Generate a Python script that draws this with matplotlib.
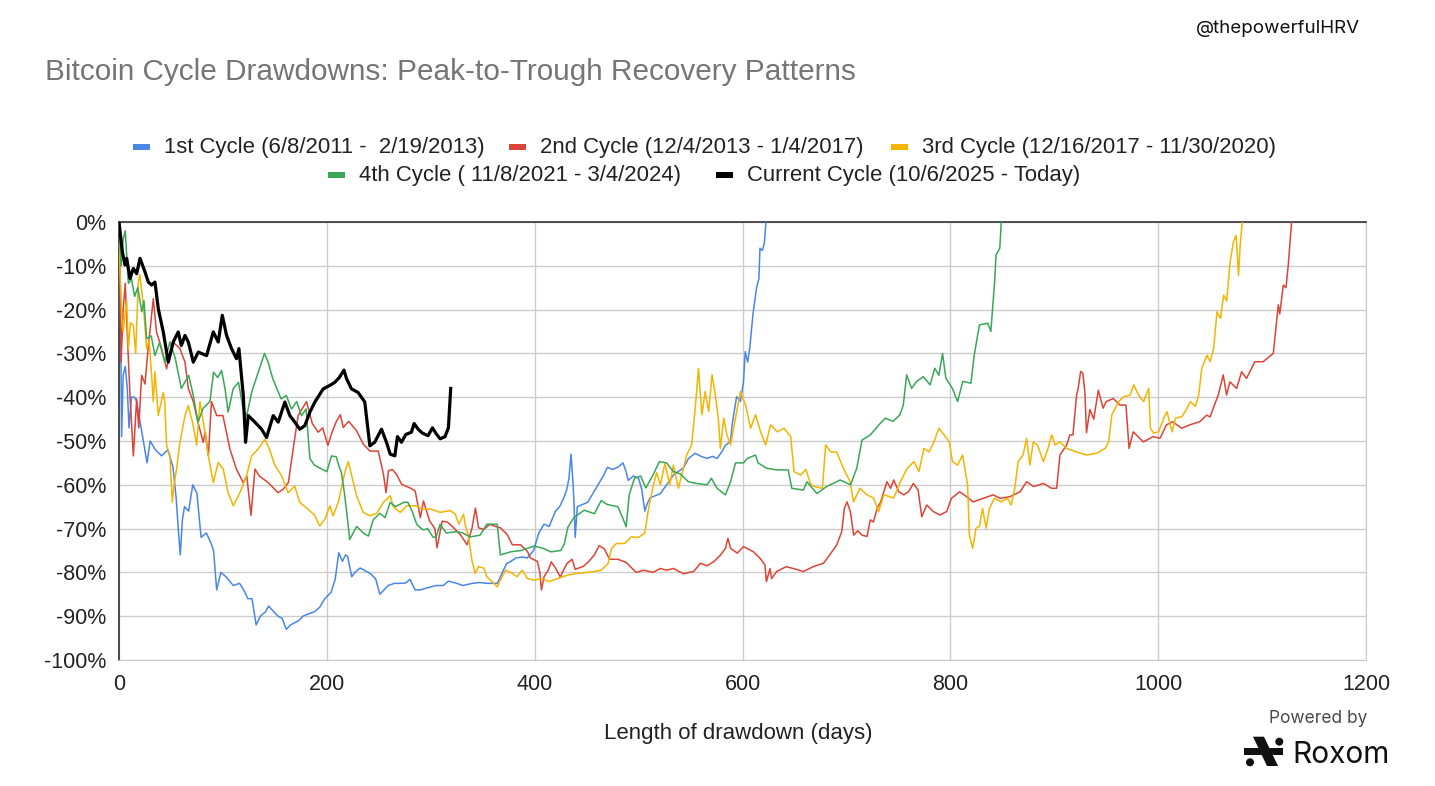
import matplotlib
matplotlib.use("Agg")
import matplotlib.pyplot as plt
from matplotlib.patches import Rectangle, Circle, Polygon

W, H = 1435, 786
FONT = "Liberation Sans"
BLUE, RED, YELLOW, GREEN, BLACK = "#4a86e8", "#db4437", "#f4b400", "#3aa757", "#000000"
GRID, INK = "#cccccc", "#222222"

# ---- data: (day since peak, drawdown %) ----
c1_day = [0, 1, 2.5, 4, 6, 8, 9.6, 12, 15, 17, 22, 27, 30, 35, 41, 47, 52, 55, 57, 59, 61, 63, 67, 71,
          75, 79, 84, 88, 91, 94, 98, 103, 110, 116, 120, 124, 128, 132, 136, 141, 144, 149, 153, 157,
          161, 165, 169, 173, 177, 182, 188, 193, 198, 204, 208, 211.5, 215, 218, 220, 224, 227, 232,
          236, 240, 243, 247, 251, 255, 259, 265, 271, 276, 280, 285, 290, 297, 305, 312, 317, 325,
          331, 340, 347, 354, 364, 368, 373, 377, 382, 388, 393, 399, 404, 409, 414, 420, 424, 428,
          431, 433, 435, 437, 438, 439, 441, 446, 451, 456, 461, 466, 470, 475, 480, 485, 488, 490,
          495, 500, 503, 506, 508, 511, 516, 521, 527, 533.5, 538, 543, 548, 554.5, 560, 566, 571,
          575.5, 580, 583.6, 588.5, 590, 594.3, 598, 601, 602.6, 605, 607, 610, 613.5, 615.8, 616.8,
          619, 621, 622.6]
c1_pct = [0, -5, -49, -35, -33, -38, -47, -40, -40, -41, -48, -55, -50, -52, -53.4, -52, -56, -63, -70,
          -76, -68, -65, -66, -60, -62, -72, -71, -73, -75, -84, -80, -81, -83, -82.5, -84, -86, -86,
          -92, -90, -89, -87.7, -89, -90, -90.5, -93, -92, -91.5, -91, -90, -89.5, -89, -88, -86,
          -84.6, -81.6, -75.5, -77.5, -76, -76.3, -81, -80, -79, -79.5, -80, -80.5, -81.5, -85, -84,
          -83, -82.5, -82.5, -82.4, -81.6, -84, -84, -83.5, -83, -83, -82, -82.5, -83, -82.5, -82.3,
          -82.5, -82.5, -80.5, -78, -77.5, -76.7, -76.5, -76.7, -75, -71, -69, -69.5, -66, -65, -63,
          -61, -58.5, -53, -60, -65, -72, -65, -64.5, -64, -62, -60, -58, -56, -56.5, -56, -55, -57,
          -59, -58, -58.5, -61, -66, -64.5, -63, -62.5, -62, -60, -57.8, -57, -56.2, -54, -52.8,
          -53.5, -54, -53.5, -54, -52.5, -51, -50, -46.3, -39.9, -41, -36.4, -29.6, -32, -28.8, -21.2,
          -15, -12.9, -6, -6.5, -4.9, 0]

c2_day = [0, 1, 2, 4, 6, 8, 10.6, 13.8, 17, 19, 21.8, 25, 28, 31.4, 33, 36, 41, 45.8, 49, 52, 58.6,
          63.5, 66.7, 71.5, 76, 81, 83, 86, 89, 94, 100, 106.7, 113, 119.5, 123, 127, 130.8, 135,
          143.6, 153, 158, 163, 167.6, 172.4, 180.4, 186, 191.7, 196, 201, 205, 209.4, 213, 215.8,
          221, 228.7, 235, 241.5, 249.5, 254.5, 257, 259.3, 263, 267, 272, 280, 285, 290, 293, 299,
          304, 306, 311, 316, 322, 328.5, 335, 339.8, 343, 346, 351, 357, 362, 367, 373.7, 378.5,
          386.5, 393, 396, 402.6, 405, 406.5, 409, 413, 416, 420, 424.6, 431, 436, 439, 447, 452,
          457.5, 462, 467, 472, 480, 488, 497.6, 505, 514, 521, 527, 533.5, 543, 553, 559.6, 566,
          572.6, 579, 583.6, 586, 588.5, 595, 601, 610.5, 617, 621.6, 623, 626.5, 628, 632.8, 642,
          648.7, 658.6, 668, 678, 684, 690.7, 695.5, 698, 700.6, 703.8, 707, 711, 715, 719.8, 723,
          726, 729.6, 733, 736, 739, 742.5, 745.5, 750.4, 755.3, 760, 764.4, 769, 772.5, 777.3,
          783.6, 790, 796.5, 801, 809, 815.6, 822, 831.6, 841.2, 848, 857.4, 867, 873.4, 880, 889.5,
          897.5, 902.3, 905.5, 912, 915, 918, 921.5, 923, 925.4, 927.5, 929.5, 931, 934.3, 938,
          942.4, 947, 950, 956.8, 963.3, 969, 972, 976, 985.7, 995.3, 1001.7, 1008, 1014, 1022.6,
          1030.5, 1040, 1046.6, 1050, 1053, 1057.8, 1062.6, 1065.8, 1069, 1075.5, 1080.3, 1085,
          1093.1, 1101, 1110.8, 1115.6, 1117, 1120.4, 1123, 1125.2, 1128.4]
c2_pct = [0, -10, -32, -20, -14, -26, -39.6, -53.4, -40.4, -47, -35, -37, -28.9, -21.3, -17.5, -25,
          -28.9, -33.5, -30, -27.4, -28.9, -32, -38, -41, -45.7, -50.3, -48, -53.4, -41, -44.2, -44.2,
          -51.8, -56.4, -59.5, -58, -67, -56.4, -58, -59.5, -61.8, -61, -59.5, -51.8, -44.2, -41, -46,
          -48, -47, -51, -48, -45.4, -44, -46.9, -45.5, -47.7, -50.7, -52.3, -52.3, -57.6, -61.8,
          -56.8, -56.5, -57.6, -59.9, -60.7, -61.4, -67.5, -63.7, -68.3, -70, -74.4, -68.3, -68.5,
          -69.8, -71.4, -73.7, -69.8, -65.3, -69.8, -70.2, -69, -69.5, -69.8, -71.4, -73.7, -73.7,
          -75.2, -76.7, -77.5, -80, -84, -81, -79.5, -77.6, -79, -81, -78, -77, -79.3, -78.6, -77.5,
          -76, -73.9, -74.6, -77, -77, -77.7, -80, -79.5, -80, -79.1, -79.5, -79.1, -80.3, -79.8,
          -77.9, -78.5, -77.5, -76, -74.5, -72.2, -74.5, -75.6, -74.1, -75.3, -76.8, -78.3, -82.1,
          -79.1, -81.4, -79.8, -78.7, -79.1, -79.8, -78.7, -77.9, -76, -73.7, -70.7, -65.4, -63.9,
          -66.1, -71.5, -70.5, -71.5, -71.8, -68, -68.5, -65.4, -63.9, -61.6, -59.3, -60.8, -58.9,
          -61.6, -62.3, -61.5, -59.7, -61.2, -67.3, -64.6, -66.1, -66.9, -66.1, -63.1, -61.6, -62.7,
          -63.9, -63.1, -62.3, -63.1, -62.7, -61.6, -59.3, -60.4, -59.7, -60.8, -60.8, -53.2, -50.9,
          -48.6, -48.6, -39.5, -38, -34.1, -34.5, -39, -48.1, -42.8, -45, -38.4, -42.5, -41, -40.3,
          -41.8, -41.8, -51.7, -47.9, -50.2, -49, -49.4, -46.3, -45.6, -47.1, -46.3, -45.6, -44.1,
          -44.5, -42.5, -39.5, -34.9, -39.5, -36.5, -38, -34.2, -35.7, -31.9, -31.9, -30, -18.9, -21,
          -14.4, -15, -9.8, 0]

c3_day = [0, 1, 2.6, 4, 7.4, 9, 11, 13.8, 16, 18.6, 20, 23.4, 26.6, 29, 31.4, 33, 34.6, 37.8, 42.6,
          44, 45.8, 49, 51.3, 53, 55.4, 58.6, 63.5, 66.7, 71, 74.7, 77.9, 82.7, 86, 90.7, 95.5, 100.3,
          105, 110, 116.3, 122.8, 127.6, 134, 140.4, 145, 150, 156.4, 162.8, 169, 174, 182, 188.5,
          193, 198, 203, 206, 211, 217.5, 220.7, 224, 228.7, 235, 241.5, 248, 254.5, 261, 264,
          270.6, 277, 286.5, 293, 300, 309, 318.8, 323.6, 327, 331.6, 333, 336.4, 339.6, 342.8, 346,
          351, 354, 359, 364, 367, 372, 378.5, 383, 388, 393, 399.5, 406, 414, 422, 431.9, 441.6,
          454.4, 464, 470.6, 474, 478.6, 486.7, 493, 500, 506, 509.4, 514, 517.4, 521, 525.4, 530,
          533.5, 538.3, 541.5, 546.3, 551, 554.5, 557.7, 559, 561, 564, 567.5, 570.7, 573.9, 577,
          578.7, 582, 585, 588.5, 593.3, 598, 603, 607.8, 612.6, 617.4, 622.3, 627, 633.5, 640,
          646.4, 649.6, 656, 661, 665.7, 671, 676.9, 680, 685, 690.6, 697, 703.6, 706.8, 713, 719.8,
          726, 731, 736, 745.5, 752, 758.6, 765, 769.8, 774.6, 779.4, 784.3, 789, 794, 799, 802,
          807, 811.8, 816.6, 818.3, 821.5, 824.7, 828, 831, 834.5, 837.6, 842.4, 849, 855, 858.6,
          862, 865.3, 870, 873.4, 876.6, 879.8, 884, 889.5, 894, 897.5, 900.7, 905.5, 912, 921.5,
          931, 941, 949, 952.3, 955.5, 958.7, 962, 966.8, 973.2, 976.4, 981.2, 986, 990.9, 992.5,
          995.7, 1000.5, 1005.3, 1008.5, 1013.4, 1016.6, 1023, 1027.8, 1031, 1035.8, 1039, 1042,
          1047, 1050, 1053.4, 1056.6, 1060, 1063, 1066, 1069.2, 1072.4, 1075, 1077.3, 1079, 1081]
c3_pct = [0, -11, -22, -25, -18, -29, -23, -23.6, -30, -13.7, -12, -19, -29, -27, -35, -41, -34.2,
          -44.2, -38.9, -41, -51, -53.4, -64, -60, -56.4, -50.3, -44.2, -41.9, -46, -51, -41, -48,
          -53.4, -59.5, -54.9, -56.4, -61.8, -64.8, -61.8, -57.9, -53.4, -51.8, -49.6, -52, -55.6,
          -57.9, -61.8, -60.3, -64, -65.6, -67, -69.4, -67.9, -64.8, -67.1, -64, -57, -54.7, -58,
          -62.5, -66.3, -67.1, -66.5, -64, -62.5, -65, -66.3, -64.8, -64.8, -65.6, -65.5, -66.3,
          -65.9, -66.7, -69, -66.7, -69, -71.9, -77.2, -80.2, -78.7, -79, -81, -82.1, -83.3, -81.8,
          -79.5, -80.2, -81, -79.5, -81.4, -81.8, -81.4, -82.1, -81.4, -80.6, -80.2, -79.9, -79.5,
          -78, -74.5, -73.4, -73.4, -71.9, -72, -71, -65.7, -60.3, -57.2, -60, -55.1, -60, -55.5,
          -60.8, -57.8, -53.2, -50.9, -42.5, -33.4, -38, -44, -38.7, -43.3, -34.9, -39.5, -45.6,
          -51.7, -44.8, -48.6, -50.9, -44.8, -38.7, -41.8, -47.1, -44, -47.9, -50.9, -46.3, -47.9,
          -47.1, -49, -57, -57.8, -56.5, -60, -60.5, -60.8, -50.9, -52.5, -52.5, -56.2, -59.3, -63.9,
          -60.8, -62.3, -63, -66.1, -62.3, -63, -59.3, -56.2, -54.7, -57, -51.7, -52.5, -50.2, -47.1,
          -48.6, -50.2, -54.7, -55.5, -53.2, -60, -71.5, -74.5, -69.9, -69.5, -65.4, -69.9, -65.4,
          -63.1, -63.9, -63.1, -64.6, -60.8, -54.7, -53.2, -49.4, -55.5, -50.2, -51, -54.7, -51.7,
          -48.6, -50.9, -50.2, -51.7, -52.5, -53.2, -52.8, -51.7, -50.2, -44, -42.5, -41, -39.9,
          -39.5, -37.2, -39.5, -41, -38, -47.1, -48.2, -47.9, -44.8, -43.3, -47.9, -44.8, -44.4,
          -42.5, -41, -42.1, -39.5, -33.4, -30.4, -31.9, -28.9, -20.5, -22, -16.7, -18, -9.1, -4.6,
          -3, -12.2, -5, 0]

c4_day = [0, 2, 4, 6, 9, 12, 15, 18, 22, 24, 26.6, 31, 34.6, 39, 44, 49, 54, 60, 67, 71.5, 76, 81,
          87.5, 91, 95, 98.7, 102, 105, 110, 115, 119.5, 123, 127.6, 134, 140, 143.5, 148, 156, 161,
          166, 171, 175.6, 180, 183.7, 188, 195, 200, 204.5, 209, 212, 214, 217, 220.7, 222, 228.7,
          235, 240, 244.6, 251, 256, 261, 266, 274, 278, 282, 286.5, 291, 293, 297, 302, 305, 309,
          315, 325, 331, 338, 347.5, 354, 364, 367, 377, 386.7, 399.5, 408, 415.6, 425, 428.6,
          431.9, 438, 447.7, 457.5, 464, 470, 480, 485, 488, 491, 496, 502, 507, 514, 520, 527,
          533.5, 540, 548, 556, 566, 570, 575.5, 583.6, 588.5, 593.3, 601, 604.5, 612.5, 615, 623,
          632.8, 644, 647.4, 658.6, 662, 671.6, 681, 694, 704, 710, 715, 723, 732.5, 737.4, 745,
          751.5, 754.7, 758, 762.7, 767.6, 774, 780.5, 785, 789, 792.5, 795.7, 802, 807, 812, 819.8,
          823, 828, 836, 839, 842.6, 844, 847.6, 849]
c4_pct = [0, -10, -4, -2, -14, -13, -17, -15, -20.5, -18, -26.6, -26, -30.5, -27.5, -32, -27.4, -31,
          -38, -35, -39.6, -45.7, -42.5, -41, -34.3, -35.5, -33.9, -38, -43.4, -38, -36.6, -42.7,
          -44.2, -38.9, -34.3, -30, -32, -35.8, -40.4, -39.6, -42.7, -41, -44.2, -42.7, -54, -55.5,
          -56.4, -57, -53.4, -53.6, -56, -57.2, -62, -69.5, -72.5, -69.5, -71, -71.7, -68, -66.5,
          -67.5, -64, -65, -64, -64, -66, -69, -70, -70.3, -70, -71.9, -72, -69, -71, -70.7, -71,
          -71.9, -71.5, -69, -69, -76, -75.3, -75, -74, -74.5, -75.3, -75, -73.5, -69.7, -67.4,
          -65.8, -66.6, -63.6, -64.5, -65, -67.7, -69.6, -62.3, -58.5, -58, -60.7, -57.7, -54.7, -55,
          -57, -57.5, -59.3, -59.7, -60, -58.5, -60.8, -62.3, -59.3, -55, -55, -54, -53.2, -55,
          -56.2, -56.6, -56.6, -60.8, -61.2, -59.3, -62, -60.4, -58.9, -60, -56.2, -49.8, -48.6, -46,
          -44.8, -45.5, -44, -41.8, -34.9, -38, -36.4, -35.3, -37.2, -33.4, -35, -30, -35.7, -38, -41,
          -36.4, -36.8, -30.4, -23.5, -23.1, -25, -13.7, -7.5, -6, 0]

cur_day = [0, 3.2, 5.8, 7.4, 10.6, 13.8, 17, 20.2, 25, 28.2, 31.4, 34.6, 37.8, 42.6, 47.4, 52.2, 57,
           60, 63.5, 66.7, 71.5, 76.3, 84.3, 90.7, 95.5, 99.4, 103.5, 108.3, 113, 115.4, 119.6,
           121.8, 124.4, 130.8, 137.2, 142, 148.4, 153.2, 159.6, 164.4, 169.2, 174, 178.8, 183.7,
           188.5, 196.5, 203, 207.7, 212, 216.5, 219, 223.7, 230, 236.5, 241.4, 246, 252.6, 257.4,
           261, 265.4, 268, 271.8, 276, 281.4, 284, 287.8, 292, 297.4, 301.6, 305.4, 309, 313.7,
           317, 319.2]
cur_pct = [0, -6.8, -9.8, -8.3, -12.9, -10.6, -11.8, -8.3, -11.4, -13.7, -14.4, -13.7, -19.8, -25.1,
           -32, -27.4, -25.1, -28.2, -25.9, -27.4, -32, -29.7, -30.5, -25.1, -27.4, -21.3, -25.9,
           -28.9, -31.2, -28.9, -39.6, -50.3, -44.2, -45.7, -47.3, -49.2, -44.2, -45.7, -41.1, -44.2,
           -45.7, -47.3, -46.5, -43.4, -41.1, -38.1, -37.3, -36.6, -35.5, -33.8, -35.8, -38.1, -38.9,
           -41.1, -51.1, -50.3, -47.3, -50.3, -53, -53.4, -49, -50.3, -48.5, -48, -46, -47.3, -48.2,
           -48.8, -47, -48.4, -49.5, -49, -47, -38]

series = [
    (c1_day, c1_pct, BLUE, "1st Cycle (6/8/2011 -  2/19/2013)", 1.1),
    (c2_day, c2_pct, RED, "2nd Cycle (12/4/2013 - 1/4/2017)", 1.1),
    (c3_day, c3_pct, YELLOW, "3rd Cycle (12/16/2017 - 11/30/2020)", 1.1),
    (c4_day, c4_pct, GREEN, "4th Cycle ( 11/8/2021 - 3/4/2024)", 1.1),
    (cur_day, cur_pct, BLACK, "Current Cycle (10/6/2025 - Today)", 2.3),
]

x_ticks = [0, 200, 400, 600, 800, 1000, 1200]
y_ticks = [0, -10, -20, -30, -40, -50, -60, -70, -80, -90, -100]

plt.rcParams["font.family"] = [FONT, "DejaVu Sans"]
fig = plt.figure(figsize=(W / 100, H / 100), dpi=100, facecolor="white")


def fx(px):
    return px / W


def fy(py):
    return 1 - py / H


ax = fig.add_axes([fx(119), fy(660), fx(1366) - fx(119), fy(222) - fy(660)])
for d, p, c, lab, lw in series:
    ax.plot(d, p, color=c, lw=lw, solid_joinstyle="round", zorder=3)

ax.set_xlim(0, 1200)
ax.set_ylim(-100, 0)
ax.set_xticks(x_ticks, [str(v) for v in x_ticks])
ax.set_yticks(y_ticks, [f"{v}%" for v in y_ticks])
ax.tick_params(length=0, labelsize=15.5, labelcolor=INK)
ax.tick_params(axis="y", pad=9)
ax.tick_params(axis="x", pad=10)
ax.grid(True, color=GRID, lw=1.0, zorder=0)
ax.set_axisbelow(True)
for s in ["bottom", "right"]:
    ax.spines[s].set_color(GRID)
for s in ["left", "top"]:
    ax.spines[s].set_color("#333333")
    ax.spines[s].set_linewidth(1.2)

# overlay in pixel coordinates for titles, legend and logo
ov = fig.add_axes([0, 0, 1, 1], zorder=-1)
ov.set_xlim(0, W)
ov.set_ylim(H, 0)
ov.axis("off")

ov.text(45, 80, "Bitcoin Cycle Drawdowns: Peak-to-Trough Recovery Patterns",
        fontsize=21.4, color="#757575", va="baseline", ha="left")
ov.text(1360, 33, "@thepowerfulHRV", fontsize=13.5, color="#111111", va="baseline", ha="right",
        family=["Inter", "DejaVu Sans"])

# legend, two centred rows
legend_x = [164, 540, 922, 359, 747]
legend_y = [147, 147, 147, 175, 175]
for (d, p, c, lab, lw), tx, ty in zip(series, legend_x, legend_y):
    ov.add_patch(Rectangle((tx - 31, ty - 3), 17, 6, color=c, lw=0))
    ov.text(tx, ty, lab, fontsize=15.9, color=INK, va="center", ha="left")

ov.text(738, 733, "Length of drawdown (days)", fontsize=16, color=INK, ha="center", va="center")

# Powered by Roxom
ov.text(1367, 723, "Powered by", fontsize=12.5, color="#4a4a4a", ha="right", va="baseline",
        family=["Inter", "DejaVu Sans"])
ov.text(1292, 763, "Roxom", fontsize=21.5, color="#111111", ha="left", va="baseline",
        family=["Inter", "DejaVu Sans"])
ov.add_patch(Polygon([(1253, 736.7), (1264, 736.7), (1278, 766), (1267, 766)], color="#111111", lw=0))
ov.add_patch(Rectangle((1244, 747.5), 38.5, 7.5, color="#111111", lw=0))
ov.add_patch(Circle((1279.3, 741.7), 4, color="#111111", lw=0))
ov.add_patch(Circle((1250, 762.3), 4, color="#111111", lw=0))

fig.savefig("out.png", dpi=100, facecolor="white")
